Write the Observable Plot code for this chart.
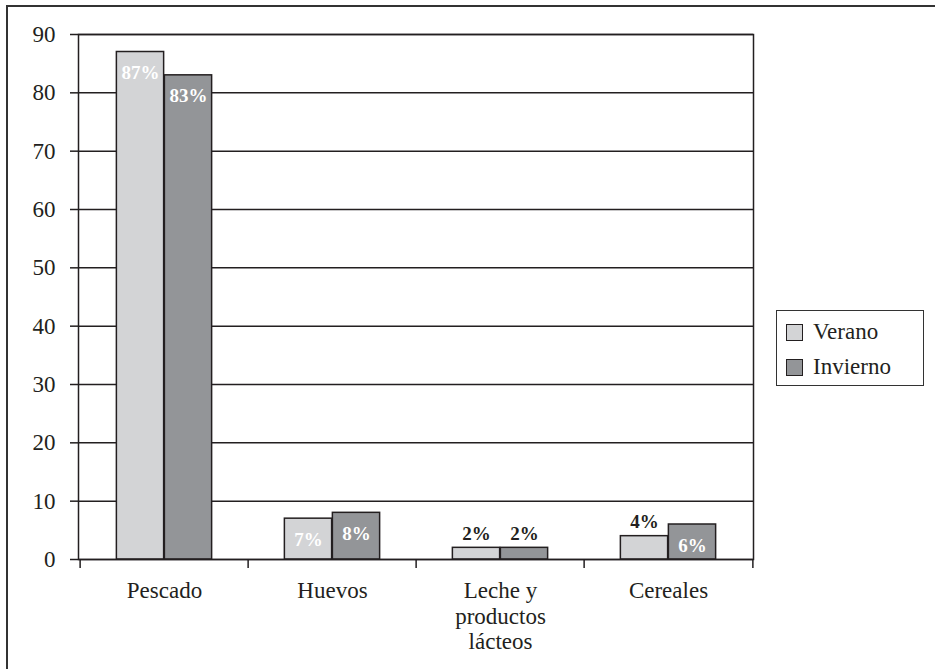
<!DOCTYPE html>
<html>
<head>
<meta charset="utf-8">
<script src="https://cdn.jsdelivr.net/npm/d3@7"></script>
<script src="https://cdn.jsdelivr.net/npm/@observablehq/plot@0.6"></script>
<style>
  html, body { margin: 0; padding: 0; background: #fff; }
  #wrap { position: relative; width: 935px; height: 669px; overflow: hidden;
          font-family: "Liberation Serif", "Times New Roman", serif; color: #231f20; }
  #border { position: absolute; left: 6px; top: 5px; width: 1000px; height: 1000px;
            border-left: 2px solid #333; border-top: 2px solid #333; }
  #chart { position: absolute; left: 0; top: 0; }
  #legend { position: absolute; left: 776px; top: 310px; width: 148px; height: 76px;
            box-sizing: border-box; border: 1.5px solid #333; background: #fff; }
  .row { position: absolute; left: 9px; height: 18px; display: flex; align-items: center;
         font-size: 23px; line-height: 18px; }
  .sw { width: 15px; height: 15px; border: 1.5px solid #231f20; margin-right: 10px; flex: none; }
</style>
</head>
<body>
<div id="wrap">
  <div id="border"></div>
  <div id="chart"></div>
  <div id="legend"></div>
</div>
<script>
// Food categories and the share (%) recorded in each season
const categories = ["Pescado", "Huevos", "Leche y\nproductos\nlácteos", "Cereales"];
const seasons = ["Verano", "Invierno"];
const verano = [87, 7, 2, 4];
const invierno = [83, 8, 2, 6];
const yTicks = [0, 10, 20, 30, 40, 50, 60, 70, 80, 90];
const seasonColors = ["#d3d4d6", "#939598"];

const rows = categories.flatMap((cat, i) => [
  {cat, season: seasons[0], value: verano[i]},
  {cat, season: seasons[1], value: invierno[i]}
]);

const W = 935, H = 669;
const mL = 78, mR = 182, mT = 34, mB = 110;
const step = (W - mL - mR) / categories.length;
const barW = 48;
const ink = "#231f20";
const serif = "Liberation Serif, Times New Roman, serif";

// one bar mark per season, placed side by side inside each category band
function bars(si) {
  const left = si === 0;
  return Plot.barY(rows.filter(d => d.season === seasons[si]), {
    x: "cat", y: "value",
    fill: seasonColors[si], stroke: ink, strokeWidth: 1.5,
    insetLeft: left ? step / 2 - barW : step / 2,
    insetRight: left ? step / 2 : step / 2 - barW
  });
}

// value labels: white inside the taller bars, dark above the short ones
function labels(si, inside) {
  return Plot.text(rows.filter(d => d.season === seasons[si] && (d.value >= 5) === inside), {
    x: "cat", y: "value", text: d => d.value + "%",
    dx: si === 0 ? -barW / 2 : barW / 2,
    dy: inside ? 21 : -14,
    fill: inside ? "#fff" : ink,
    fontWeight: "bold", fontSize: 19, fontFamily: serif
  });
}

const chart = Plot.plot({
  width: W, height: H,
  marginTop: mT, marginBottom: mB, marginLeft: mL, marginRight: mR,
  style: {fontFamily: serif, fontSize: "23px", color: ink, background: "transparent"},
  x: {domain: categories, padding: 0, axis: null, label: null},
  y: {domain: [0, 90], axis: null, label: null},
  marks: [
    Plot.ruleY(yTicks, {stroke: ink, strokeWidth: 1.5}),
    bars(0), bars(1),
    Plot.frame({stroke: ink, strokeWidth: 1.5}),
    // tick marks at the category boundaries, below the baseline
    Plot.ruleX(categories, {x: d => d, y1: 0, y2: 0, insetBottom: -9, dx: -step / 2, stroke: ink, strokeWidth: 1.5}),
    Plot.ruleX(categories.slice(-1), {x: d => d, y1: 0, y2: 0, insetBottom: -9, dx: step / 2, stroke: ink, strokeWidth: 1.5}),
    Plot.axisY({ticks: yTicks, label: null, tickSize: 8, tickPadding: 15, fontSize: 23, fontFamily: serif, strokeWidth: 1.5}),
    Plot.axisX({label: null, tickSize: 0, tickPadding: 21, fontSize: 23, fontFamily: serif, lineHeight: 1.1}),
    labels(0, true), labels(1, true), labels(0, false), labels(1, false)
  ]
});
document.getElementById("chart").appendChild(chart);

// legend
const legend = document.getElementById("legend");
seasons.forEach((s, i) => {
  const row = document.createElement("div");
  row.className = "row";
  row.style.top = (12 + i * 35) + "px";
  const sw = document.createElement("div");
  sw.className = "sw";
  sw.style.background = seasonColors[i];
  const label = document.createElement("span");
  label.textContent = s;
  row.appendChild(sw);
  row.appendChild(label);
  legend.appendChild(row);
});
</script>
</body>
</html>
